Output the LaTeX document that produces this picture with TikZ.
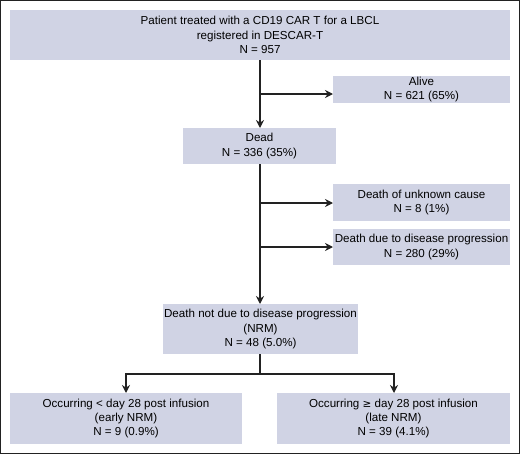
\documentclass[tikz,border=0pt]{standalone}
\usepackage{fontspec}
\setmainfont{Liberation Sans}
\newfontfamily\symfont{DejaVu Sans}
\usetikzlibrary{arrows.meta}
\definecolor{boxfill}{RGB}{208,211,228}
\definecolor{linec}{RGB}{34,34,34}
\tikzset{
  box/.style={fill=boxfill, draw=none, inner sep=0pt, align=center, font=\fontsize{11.6}{14.3}\selectfont},
  conn/.style={draw=linec, line width=1.5pt},
  arr/.style={conn, -{Stealth[length=8pt,width=8pt]}},
}
\begin{document}
\begin{tikzpicture}[x=1pt,y=-1pt]
\useasboundingbox (0,0) rectangle (520,455);
\draw[linec, line width=1.2pt] (0.6,0.6) rectangle (519.4,453.6);
% boxes: corners
\path[box] (10,10) rectangle (510,60);
\node[box, fill=none] (top) at (260,35) {Patient treated with a CD19 CAR T for a LBCL\\registered in DESCAR-T\\N = 957};
\path[box] (333,76) rectangle (510,103);
\node[box, fill=none] (alive) at (421.5,89.5) {Alive\\N = 621 (65\%)};
\path[box] (183,128) rectangle (336,164);
\node[box, fill=none] (dead) at (259.5,146) {Dead\\N = 336 (35\%)};
\path[box] (333,184) rectangle (510,221);
\node[box, fill=none] (unk) at (421.5,202.5) {Death of unknown cause\\N = 8 (1\%)};
\path[box] (333,229) rectangle (510,265);
\node[box, fill=none] (prog) at (421.5,247) {Death due to disease progression\\N = 280 (29\%)};
\path[box] (163,304) rectangle (358,354);
\node[box, fill=none] (nrm) at (260.5,329) {Death not due to disease progression\\(NRM)\\N = 48 (5.0\%)};
\path[box] (10,393) rectangle (242,444);
\node[box, fill=none] (early) at (126,418.5) {Occurring < day 28 post infusion\\(early NRM)\\N = 9 (0.9\%)};
\path[box] (277,393) rectangle (510,444);
\node[box, fill=none] (late) at (393.5,418.5) {Occurring {\symfont\fontsize{10.5}{14.3}\selectfont≥} day 28 post infusion\\(late NRM)\\N = 39 (4.1\%)};
% coordinates
\coordinate (topb) at (260,60);
\coordinate (deadt) at (260,128);
\coordinate (j1) at (260,94);
\coordinate (alivel) at (333,94);
\coordinate (deadb) at (260,164);
\coordinate (nrmt) at (260,304);
\coordinate (j2) at (260,203);
\coordinate (unkl) at (333,203);
\coordinate (j3) at (260,247);
\coordinate (progl) at (333,247);
\coordinate (nrmb) at (260,354);
\coordinate (j4) at (260,374);
\coordinate (el) at (126,374);
\coordinate (lr) at (394,374);
\coordinate (earlyt) at (126,393);
\coordinate (latet) at (394,393);
\draw[arr] (topb) -- (deadt);
\draw[arr] (j1) -- (alivel);
\draw[arr] (deadb) -- (nrmt);
\draw[arr] (j2) -- (unkl);
\draw[arr] (j3) -- (progl);
\draw[conn] (nrmb) -- (j4);
\draw[arr] (j4) -- (el) -- (earlyt);
\draw[arr] (j4) -- (lr) -- (latet);
\end{tikzpicture}
\end{document}
